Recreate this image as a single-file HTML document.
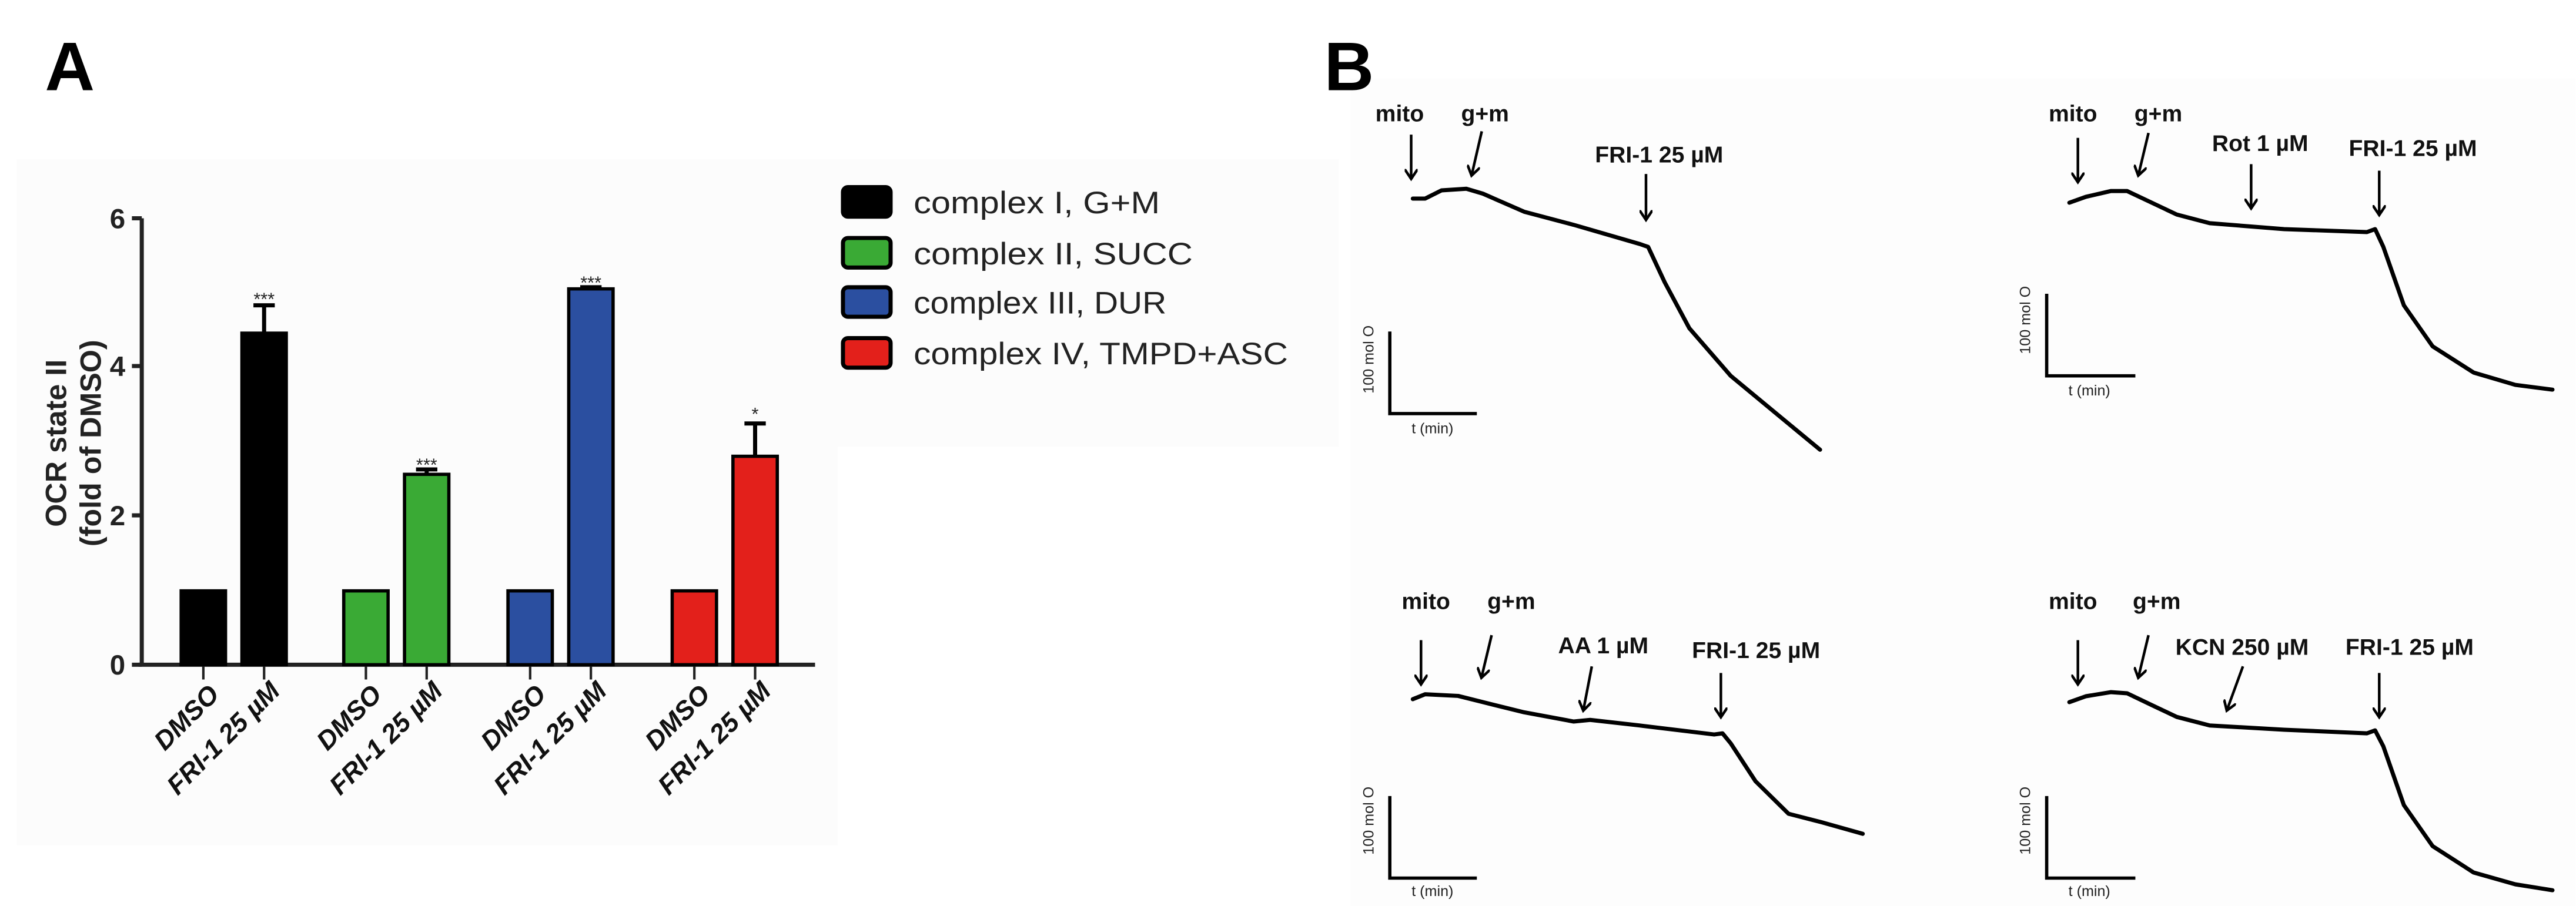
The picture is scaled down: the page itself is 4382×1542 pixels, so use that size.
<!DOCTYPE html>
<html><head><meta charset="utf-8"><style>
html,body{margin:0;padding:0;background:#fff;}
svg{display:block;}
text{font-family:"Liberation Sans",Arial,sans-serif;}
</style></head><body>
<svg width="4382" height="1542" viewBox="0 0 1568 552" xmlns="http://www.w3.org/2000/svg">
<defs>
<marker id="ah" markerWidth="8" markerHeight="8" refX="5" refY="4" orient="auto" markerUnits="userSpaceOnUse">
<path d="M0,0 L6,4 L0,8" fill="none" stroke="#000" stroke-width="1.6"/>
</marker>
</defs>
<rect x="0" y="0" width="1568" height="552" fill="#fff"/>
<rect x="10" y="97" width="500" height="418" fill="#fcfcfc"/>
<rect x="495" y="97" width="320" height="175" fill="#fcfcfc"/>
<rect x="822" y="48" width="746" height="504" fill="#fdfdfd"/>

<!-- Panel A -->
<text x="27" y="55" font-size="42" font-weight="bold">A</text>
<g stroke="#222" stroke-width="2.5" fill="none">
<line x1="86" y1="133" x2="86" y2="405"/>
<line x1="84" y1="405" x2="496" y2="405"/>
<line x1="80" y1="133" x2="86" y2="133"/>
<line x1="80" y1="223" x2="86" y2="223"/>
<line x1="80" y1="314" x2="86" y2="314"/>
<line x1="80" y1="405" x2="86" y2="405"/>
</g>
<g stroke="#222" stroke-width="1.5">
<line x1="123.5" y1="405" x2="123.5" y2="414"/><line x1="160.5" y1="405" x2="160.5" y2="414"/>
<line x1="222.5" y1="405" x2="222.5" y2="414"/><line x1="259.5" y1="405" x2="259.5" y2="414"/>
<line x1="322.5" y1="405" x2="322.5" y2="414"/><line x1="359.5" y1="405" x2="359.5" y2="414"/>
<line x1="422.5" y1="405" x2="422.5" y2="414"/><line x1="459.5" y1="405" x2="459.5" y2="414"/>
</g>
<g font-size="17" font-weight="bold" text-anchor="end" fill="#222">
<text x="76" y="139">6</text><text x="76" y="229">4</text><text x="76" y="320">2</text><text x="76" y="411">0</text>
</g>
<g font-size="18" font-weight="bold" text-anchor="middle" fill="#222">
<text transform="translate(40,270) rotate(-90)">OCR state II</text>
<text transform="translate(61,270) rotate(-90)">(fold of DMSO)</text>
</g>
<g stroke="#000" stroke-width="2.5">
<line x1="160.5" y1="203" x2="160.5" y2="186"/><line x1="154" y1="186" x2="167" y2="186"/>
<line x1="259.5" y1="289" x2="259.5" y2="286"/><line x1="253" y1="286" x2="266" y2="286"/>
<line x1="359.5" y1="176" x2="359.5" y2="175"/><line x1="353" y1="175" x2="366" y2="175"/>
<line x1="459.5" y1="278" x2="459.5" y2="258"/><line x1="453" y1="258" x2="466" y2="258"/>
</g>
<g stroke="#000" stroke-width="2">
<rect x="110" y="360" width="27" height="45" fill="#000"/>
<rect x="147" y="203" width="27" height="202" fill="#000"/>
<rect x="209" y="360" width="27" height="45" fill="#3aaa35"/>
<rect x="246" y="289" width="27" height="116" fill="#3aaa35"/>
<rect x="309" y="360" width="27" height="45" fill="#2b4fa0"/>
<rect x="346" y="176" width="27" height="229" fill="#2b4fa0"/>
<rect x="409" y="360" width="27" height="45" fill="#e3201b"/>
<rect x="446" y="278" width="27" height="127" fill="#e3201b"/>
</g>
<g font-size="11" text-anchor="middle" fill="#222">
<text x="160.5" y="186">***</text><text x="259.5" y="287">***</text><text x="359.5" y="176">***</text><text x="459.5" y="256">*</text>
</g>
<g font-size="16" font-weight="bold" font-style="italic" text-anchor="end" fill="#111">
<text transform="translate(134,424) rotate(-45)">DMSO</text>
<text transform="translate(171,422) rotate(-45)">FRI-1 25 µM</text>
<text transform="translate(233,424) rotate(-45)">DMSO</text>
<text transform="translate(270,422) rotate(-45)">FRI-1 25 µM</text>
<text transform="translate(333,424) rotate(-45)">DMSO</text>
<text transform="translate(370,422) rotate(-45)">FRI-1 25 µM</text>
<text transform="translate(433,424) rotate(-45)">DMSO</text>
<text transform="translate(470,422) rotate(-45)">FRI-1 25 µM</text>
</g>
<g stroke="#000" stroke-width="2.5">
<rect x="513" y="114" width="29" height="18" rx="3" fill="#000"/>
<rect x="513" y="145" width="29" height="18" rx="3" fill="#3aaa35"/>
<rect x="513" y="175" width="29" height="18" rx="3" fill="#2b4fa0"/>
<rect x="513" y="206" width="29" height="18" rx="3" fill="#e3201b"/>
</g>
<g font-size="19" fill="#222">
<text x="556" y="130" textLength="150" lengthAdjust="spacingAndGlyphs">complex I, G+M</text>
<text x="556" y="161" textLength="170" lengthAdjust="spacingAndGlyphs">complex II, SUCC</text>
<text x="556" y="191" textLength="154" lengthAdjust="spacingAndGlyphs">complex III, DUR</text>
<text x="556" y="222" textLength="228" lengthAdjust="spacingAndGlyphs">complex IV, TMPD+ASC</text>
</g>

<!-- Panel B -->
<text x="806" y="55" font-size="42" font-weight="bold">B</text>
<g font-size="14" font-weight="bold" text-anchor="middle" fill="#111">
<text x="852" y="74">mito</text><text x="904" y="74">g+m</text><text x="1010" y="99">FRI-1 25 µM</text>
<text x="1262" y="74">mito</text><text x="1314" y="74">g+m</text><text x="1376" y="92">Rot 1 µM</text><text x="1469" y="95">FRI-1 25 µM</text>
<text x="868" y="371">mito</text><text x="920" y="371">g+m</text><text x="976" y="398">AA 1 µM</text><text x="1069" y="401">FRI-1 25 µM</text>
<text x="1262" y="371">mito</text><text x="1313" y="371">g+m</text><text x="1365" y="399">KCN 250 µM</text><text x="1467" y="399">FRI-1 25 µM</text>
</g>
<g stroke="#000" stroke-width="1.6" marker-end="url(#ah)">
<line x1="859" y1="82" x2="859" y2="108"/><line x1="902" y1="80" x2="896" y2="106"/><line x1="1002" y1="106" x2="1002" y2="133"/>
<line x1="1265" y1="84" x2="1265" y2="110"/><line x1="1308" y1="81" x2="1302" y2="106"/><line x1="1370.5" y1="100" x2="1370.5" y2="126"/><line x1="1448.5" y1="104" x2="1448.5" y2="130"/>
<line x1="865" y1="390" x2="865" y2="416"/><line x1="908" y1="387" x2="902" y2="412"/><line x1="969" y1="406" x2="964" y2="432"/><line x1="1047.6" y1="410" x2="1047.6" y2="436"/>
<line x1="1265" y1="390" x2="1265" y2="416"/><line x1="1308" y1="387" x2="1302" y2="412"/><line x1="1365.5" y1="406" x2="1356" y2="432"/><line x1="1448.5" y1="410" x2="1448.5" y2="436"/>
</g>
<g fill="none" stroke="#000" stroke-width="2.5" stroke-linejoin="round" stroke-linecap="round">
<polyline points="860,121 867.5,121 877.5,116 892.6,115 902.7,118 927.8,129 958,137 998,148.6 1003.3,150.4 1013.4,172 1028.4,200 1053.6,229 1083.8,254 1108,274"/>
<polyline points="1259.8,123.5 1269.9,119.9 1285,116.4 1295,116.4 1310,123.5 1325.2,130.7 1345.3,136 1390.6,139.6 1441,141.4 1446,139.6 1451,150.4 1463.5,186 1481,211 1506,227 1531.4,234.5 1554,237.4"/>
<polyline points="860,426 867.5,423 887.6,424 902.7,427.8 927.8,434 958,439.6 968,438.6 998,442 1043.5,447.5 1048.6,446.8 1053.6,452.9 1068.7,476 1088.8,495.8 1109,501 1134,508"/>
<polyline points="1259.8,427.8 1269.9,424.2 1285,421.7 1295,422.4 1310,429.6 1325.2,436.8 1345.3,442 1390.6,444.6 1441,446.8 1446,445 1451,454.7 1463.5,490.5 1481,515.5 1506,531.6 1531.4,538.8 1554,542.4"/>
</g>
<g fill="none" stroke="#000" stroke-width="2">
<polyline points="846,202 846,252 899,252"/>
<polyline points="1246,179 1246,229 1300,229"/>
<polyline points="846,485 846,535 899,535"/>
<polyline points="1246,485 1246,535 1300,535"/>
</g>
<g font-size="9" text-anchor="middle" fill="#222">
<text transform="translate(836,219) rotate(-90)">100 mol O</text>
<text x="872" y="264">t (min)</text>
<text transform="translate(1236,195) rotate(-90)">100 mol O</text>
<text x="1272" y="241">t (min)</text>
<text transform="translate(836,500) rotate(-90)">100 mol O</text>
<text x="872" y="546">t (min)</text>
<text transform="translate(1236,500) rotate(-90)">100 mol O</text>
<text x="1272" y="546">t (min)</text>
</g>
</svg>
</body></html>
